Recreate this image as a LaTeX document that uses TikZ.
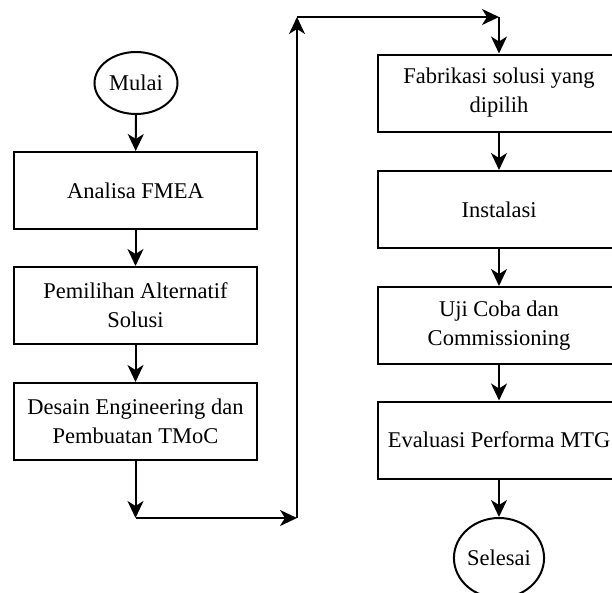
\documentclass[tikz,border=0pt]{standalone}
\usepackage{fontspec}
\setmainfont{Liberation Serif}
\usetikzlibrary{arrows.meta,shapes.geometric}
\begin{document}
\begin{tikzpicture}[x=1pt,y=-1pt,
  box/.style={draw,line width=2pt,minimum width=243pt,minimum height=77pt,align=center,inner sep=0pt,font=\fontsize{22.5}{29}\selectfont},
  term/.style={draw,line width=2pt,ellipse,inner sep=0pt,font=\fontsize{22.5}{29}\selectfont},
  conn/.style={line width=2pt,-{Stealth[length=17pt,width=16pt,inset=5pt]}}]
\useasboundingbox (0,0) rectangle (612,592);
\clip (0,0) rectangle (612,592);
\node[term,minimum width=83pt,minimum height=62pt] (mulai) at (136,83) {Mulai};
\node[box] (b1) at (135.5,190.5) {Analisa FMEA};
\node[box] (b2) at (135.5,305.5) {Pemilihan Alternatif\\Solusi};
\node[box] (b3) at (135.5,421.5) {Desain Engineering dan\\Pembuatan TMoC};
\coordinate (c1) at (135.5,518);
\coordinate (c2) at (297,518);
\coordinate (c3) at (297,17);
\coordinate (c4) at (499,17);
\node[box] (b4) at (499,93) {Fabrikasi solusi yang\\dipilih};
\node[box] (b5) at (499,209.5) {Instalasi};
\node[box] (b6) at (499,325.5) {Uji Coba dan\\Commissioning};
\node[box] (b7) at (499,440) {Evaluasi Performa MTG};
\node[term,minimum width=80pt,minimum height=80pt] (selesai) at (499,558) {Selesai};
\draw[conn] (mulai) -- (b1);
\draw[conn] (b1) -- (b2);
\draw[conn] (b2) -- (b3);
\draw[conn] (b3) -- (c1);
\draw[conn] (c1) -- (c2);
\draw[conn] (c2) -- (c3);
\draw[conn] (c3) -- (c4);
\draw[conn] (c4) -- (b4);
\draw[conn] (b4) -- (b5);
\draw[conn] (b5) -- (b6);
\draw[conn] (b6) -- (b7);
\draw[conn] (b7) -- (selesai);
\end{tikzpicture}
\end{document}
